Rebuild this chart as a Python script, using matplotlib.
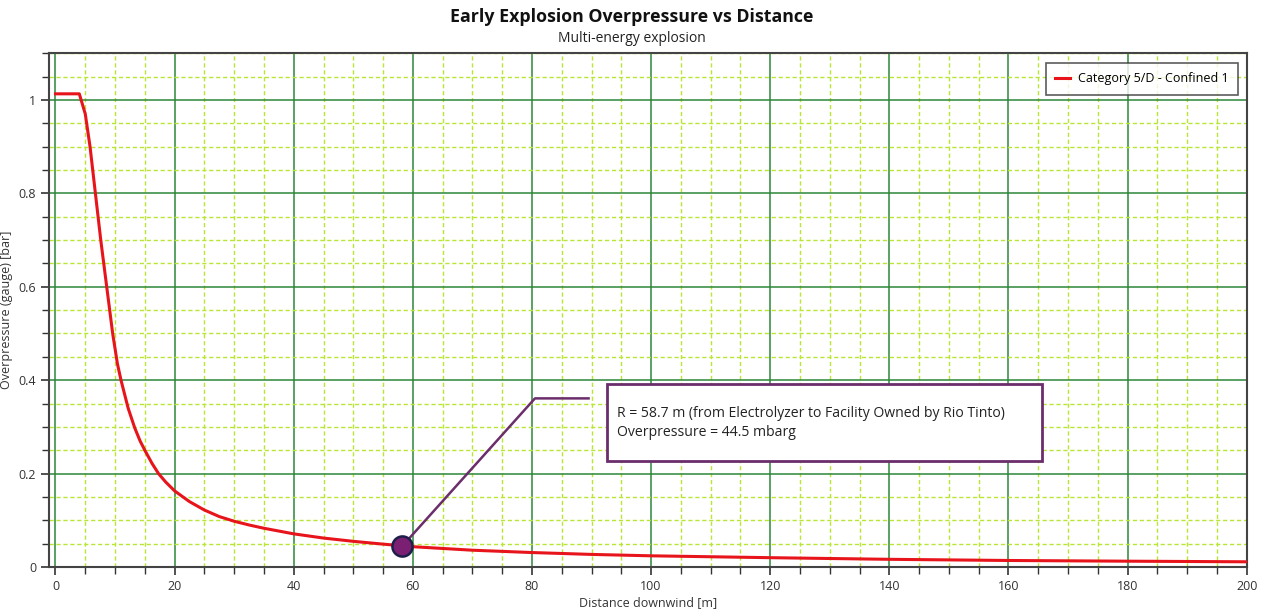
import numpy as np
import matplotlib.pyplot as plt
from matplotlib.ticker import MultipleLocator, FormatStrFormatter

# Values
distance = [0, 4.0, 5.0, 5.8, 6.7, 7.6, 8.6, 9.6, 10.4, 11.0, 12.2, 13.3, 14.2,
            15.0, 16.2, 17.3, 18.5, 20, 22.5, 25, 27.5, 30, 32.5, 35, 40, 45,
            50, 55, 60, 70, 80, 90, 100, 120, 140, 160, 180, 200]
overpressure = [1.013, 1.013, 0.970, 0.90, 0.80, 0.70, 0.60, 0.50, 0.435, 0.40,
                0.340, 0.298, 0.270, 0.250, 0.222, 0.200, 0.182, 0.163, 0.140,
                0.122, 0.108, 0.098, 0.090, 0.083, 0.071, 0.062, 0.055, 0.049,
                0.0435, 0.036, 0.031, 0.027, 0.024, 0.020, 0.0165, 0.014,
                0.0125, 0.0112]

series_label = "Category 5/D - Confined 1"
point_x = 58.2
point_y = 0.0445
note_text = ("R = 58.7 m (from Electrolyzer to Facility Owned by Rio Tinto)\n"
             "Overpressure = 44.5 mbarg")

plt.rcParams['font.family'] = ['Open Sans', 'DejaVu Sans']

fig = plt.figure(figsize=(12.64, 6.13), dpi=100)
ax = fig.add_axes([0.039, 0.075, 0.9473, 0.839])

ax.plot(distance, overpressure, color='#e8141c', lw=2.2, label=series_label, zorder=3)

# annotation leader line + marker
ax.plot([point_x, 80.5, 89.5], [point_y, 0.361, 0.361], color='#6b2d6b', lw=1.8, zorder=4)
ax.plot([point_x], [point_y], 'o', ms=14.5, mfc='#7a1f72', mec='#1e1e4a', mew=1.8, zorder=5)
box = plt.Rectangle((92.6, 0.227), 73.0, 0.164, fc='white', ec='#6b2d6b', lw=2, zorder=5)
ax.add_patch(box)
ax.text(94.2, 0.308, note_text, fontsize=10.1, color='#222222', va='center', ha='left',
        linespacing=1.4, zorder=6)

ax.set_xlim(-1.04, 200)
ax.set_ylim(0, 1.101)

ax.xaxis.set_major_locator(MultipleLocator(20))
ax.xaxis.set_minor_locator(MultipleLocator(5))
ax.yaxis.set_major_locator(MultipleLocator(0.2))
ax.yaxis.set_minor_locator(MultipleLocator(0.05))
ax.yaxis.set_major_formatter(FormatStrFormatter('%g'))

ax.grid(which='major', color='#2c8638', lw=1.1, zorder=1)
ax.grid(which='minor', color='#b8e632', lw=1.0, ls=(0, (3, 2)), zorder=0)
ax.set_axisbelow(True)

ax.tick_params(which='both', direction='out', colors='#333333', labelsize=9)
ax.tick_params(which='major', length=6, width=1.2)
ax.tick_params(which='minor', length=5, width=1.0)
for s in ax.spines.values():
    s.set_color('#444444')
    s.set_linewidth(1.5)

ax.set_xlabel('Distance downwind [m]', fontsize=9, color='#333333', labelpad=2)
ax.set_ylabel('Overpressure (gauge) [bar]', fontsize=9, color='#333333', labelpad=4)

fig.text(0.5, 0.972, 'Early Explosion Overpressure vs Distance', ha='center', va='center',
         fontsize=12.8, fontweight='bold', color='#111111')
fig.text(0.5, 0.938, 'Multi-energy explosion', ha='center', va='center',
         fontsize=10, color='#222222')

leg = ax.legend(loc='upper right', fontsize=9, frameon=True, fancybox=False,
                handlelength=1.2, handletextpad=0.6, borderpad=0.75, borderaxespad=0,
                bbox_to_anchor=(0.9927, 0.980))
leg.get_frame().set_edgecolor('#333333')
leg.get_frame().set_linewidth(1.2)
leg.set_zorder(10)

fig.savefig('out.png', dpi=100)
